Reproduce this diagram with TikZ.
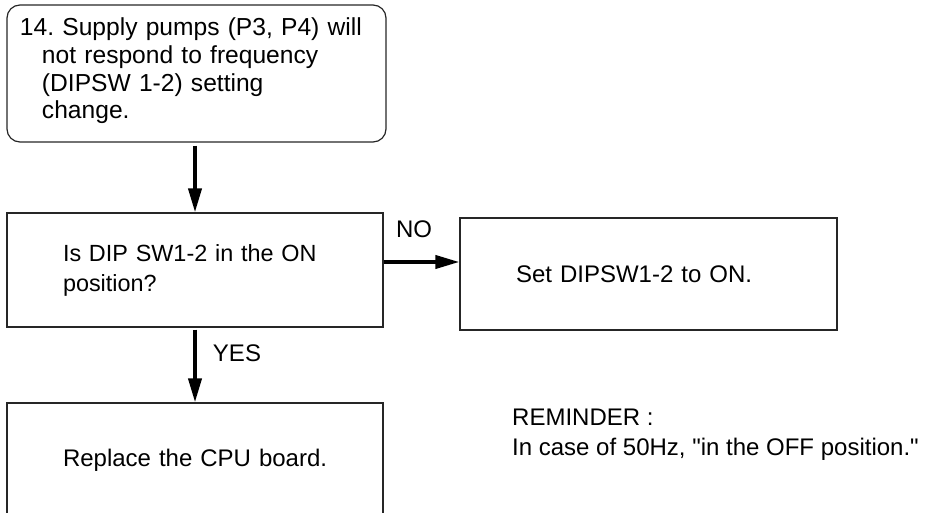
\documentclass[tikz,border=0pt]{standalone}
\usepackage{fontspec}
\setmainfont{Liberation Sans}
\usetikzlibrary{arrows.meta}
\frenchspacing
\newcommand\straightdq{\XeTeXglyph\XeTeXcharglyph34\relax}
\tikzset{
  boxline/.style={draw=black!85, line width=1.2pt},
  stepbox/.style={boxline, rectangle, inner xsep=0pt, inner ysep=0pt, align=left, anchor=center},
  arr/.style={line width=3.8pt, -{Triangle[width=13pt,length=24pt]}},
  lbl/.style={font=\fontsize{24}{30}\selectfont, inner sep=0pt}
}
\begin{document}
\begin{tikzpicture}[x=1pt,y=-1pt]
\useasboundingbox (0,0) rectangle (926,513);
\clip (0,0) rectangle (926,513);
% start box
\node[stepbox, rounded corners=13pt, minimum height=137pt,
      text width=379pt, font=\fontsize{24.6}{27.7}\selectfont]
  (start) at (196.5,73.5)
  {\hspace*{13pt}14. Supply pumps (P3, P4) will\\
   \hspace*{35pt}not respond to frequency\\
   \hspace*{35pt}(DIPSW 1-2) setting\\
   \hspace*{35pt}change.\rule[-10pt]{0pt}{10pt}};
% question
\node[stepbox, minimum height=114pt,
      text width=376pt, font=\fontsize{23.4}{30}\selectfont]
  (q) at (195,270)
  {\hspace*{56pt}Is DIP SW1-2 in the ON\\\hspace*{56pt}position?};
% answer NO
\node[stepbox, minimum height=112pt,
      text width=377pt, font=\fontsize{24}{30}\selectfont]
  (setsw) at (648.5,274)
  {\hspace*{56pt}Set DIPSW1-2 to ON.};
% answer YES
\node[stepbox, minimum height=117pt,
      text width=376pt, font=\fontsize{24}{30}\selectfont]
  (cpu) at (195,461.5)
  {\hspace*{56pt}Replace the CPU board.\rule[-7pt]{0pt}{7pt}};
% reminder
\node[lbl, anchor=west, align=left] (rem) at (512,435)
  {REMINDER :\\In case of 50Hz, \straightdq in the OFF position.\straightdq};
% connectors
\draw[arr, shorten <=3pt] (q.north |- start.south) -- (q.north);
\draw[arr] ([yshift=8pt]q.east) -- ([yshift=8pt]q.east -| setsw.west);
\draw[arr, shorten <=2pt] (q.south) -- (cpu.north);
% labels
\node[lbl] (no) at (414,229) {NO};
\node[lbl] (yes) at (237,353) {YES};
\end{tikzpicture}
\end{document}
